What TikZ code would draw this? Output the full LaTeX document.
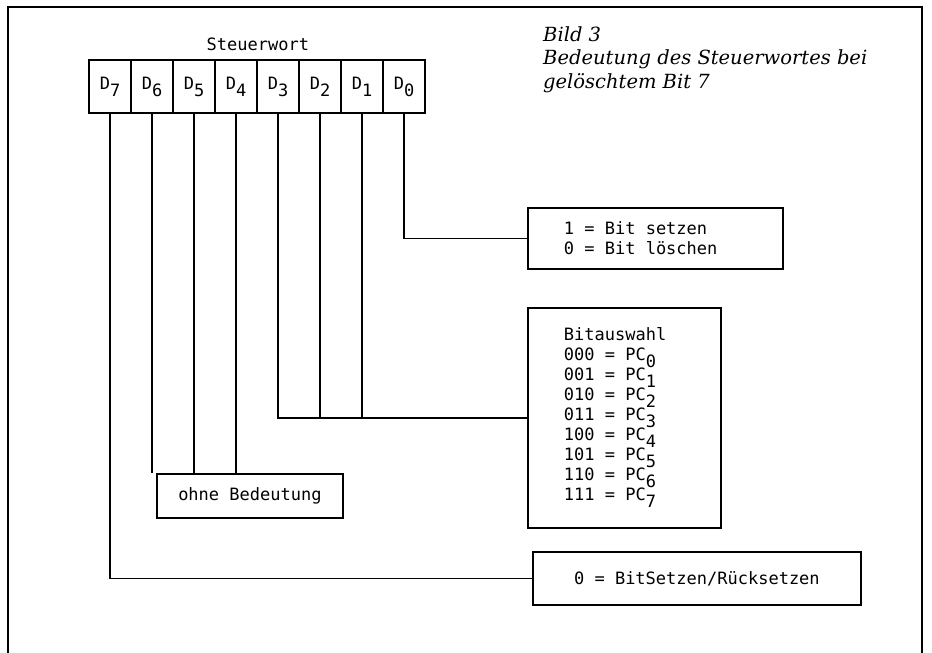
\documentclass[tikz,border=0pt]{standalone}
\usepackage{fontspec}
\setmonofont{DejaVu Sans Mono}
\newfontfamily\capfont{DejaVu Serif}
\usetikzlibrary{positioning}

% lowered index digit, as on the typewriter original
\newcommand{\lowdigit}[1]{\raisebox{-7pt}{#1}}

\begin{document}
\begin{tikzpicture}[x=1pt, y=-1pt,
    bitcell/.style={draw, line width=1.8pt, minimum width=42pt,
        minimum height=53pt, inner sep=0pt,
        font=\fontsize{17}{20}\selectfont\ttfamily},
    infobox/.style={draw, line width=1.8pt, anchor=north west,
        inner ysep=0pt, font=\fontsize{17}{20}\selectfont\ttfamily},
    wire/.style={line width=1.4pt}
]
    \useasboundingbox (0,0) rectangle (932,653);
    \draw[line width=1.8pt] (8,660) -- (8,7) -- (922,7) -- (922,660);

    % control word register
    \foreach \i in {7,...,0}
        \node[bitcell] (d\i) at ({110+42*(7-\i)},86.5) {D\lowdigit{\i}};
    \node[font=\fontsize{17}{20}\selectfont\ttfamily, above=5pt of d4.north east] (title) {Steuerwort};

    \node[anchor=north west, align=left, inner sep=0pt,
        font=\capfont\itshape\fontsize{19.5}{23.5}\selectfont] (caption) at (543,26)
        {Bild 3\\Bedeutung des Steuerwortes bei\\gelöschtem Bit 7};

    % meaning boxes
    \node[infobox, minimum width=255pt, minimum height=61pt,
        text width=183pt, inner xsep=36pt, align=flush left] (bitset) at (527,207)
        {1 = Bit setzen\\0 = Bit löschen};
    \node[infobox, minimum width=193pt, minimum height=220pt,
        text width=121pt, inner xsep=36pt, align=flush left] (bitsel) at (527,307)
        {Bitauswahl\\
         000 = PC\lowdigit{0}\\001 = PC\lowdigit{1}\\010 = PC\lowdigit{2}\\011 = PC\lowdigit{3}\\
         100 = PC\lowdigit{4}\\101 = PC\lowdigit{5}\\110 = PC\lowdigit{6}\\111 = PC\lowdigit{7}};
    \node[infobox, minimum width=186pt, minimum height=44pt, inner xsep=0pt] (unused) at (156,473)
        {ohne Bedeutung};
    \node[infobox, minimum width=328pt, minimum height=53pt, inner xsep=0pt] (setres) at (532,551)
        {0 = BitSetzen/Rücksetzen};

    % connectors
    \draw[wire] (d0.south) |- (bitset.west);
    \draw[wire] (d3.south) |- (bitsel.west);
    \draw[wire] (d2.south) -- (d2.south |- bitsel.west);
    \draw[wire] (d1.south) -- (d1.south |- bitsel.west);
    \draw[wire] (d6.south) -- (d6.south |- unused.north);
    \draw[wire] (d5.south) -- (d5.south |- unused.north);
    \draw[wire] (d4.south) -- (d4.south |- unused.north);
    \draw[wire] (d7.south) |- (setres.west);
\end{tikzpicture}
\end{document}
